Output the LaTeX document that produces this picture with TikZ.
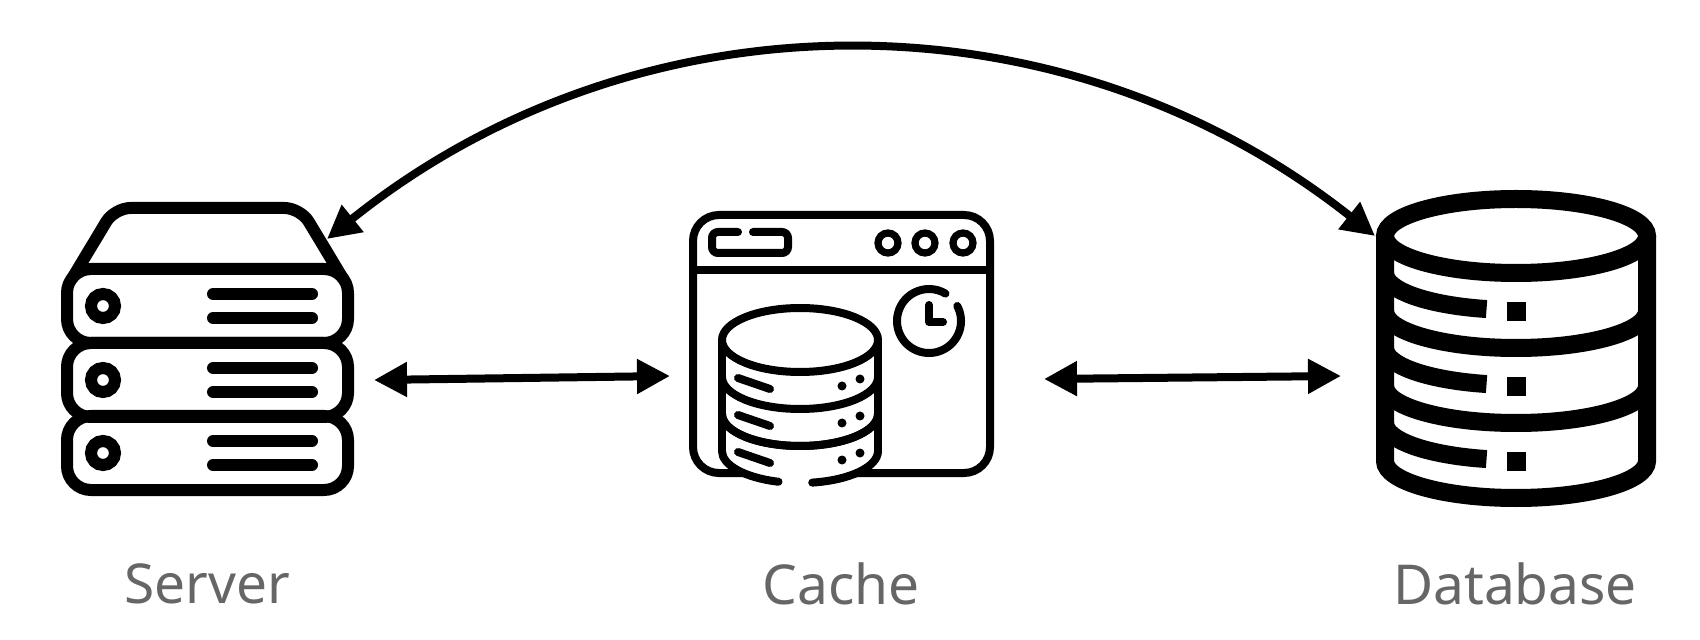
\documentclass[tikz,border=0pt]{standalone}
\usepackage{fontspec}
\setmainfont{Noto Sans}
\usetikzlibrary{arrows.meta}
\tikzset{
  link/.style={line width=4pt, {Triangle[length=16.5pt,width=16.5pt]}-{Triangle[length=16.5pt,width=16.5pt]}},
  caption/.style={text=black!60, font=\fontsize{27.5}{27.5}\selectfont, inner sep=0pt},
  srvline/.style={line width=6pt, line cap=round},
  cacheline/.style={line width=4pt, line cap=round},
  dbline/.style={line width=9pt},
}
\begin{document}
\begin{tikzpicture}[x=0.5pt, y=-0.5pt]
  \useasboundingbox (0,0) rectangle (1700,640);
  % server
  \def\sL{67} \def\sR{348}
  \draw[srvline, rounded corners=8pt, line join=round] (72.4,278) -- (114.5,208) -- (300.5,208) -- (342.6,278);
  \foreach \y in {269, 343, 416} {
    \draw[srvline, rounded corners=12pt] (\sL, \y) rectangle (\sR, \y+74);
    \draw[line width=6pt] (103, \y+37) circle (12);
    \draw[srvline] (213, \y+25) -- (312, \y+25);
    \draw[srvline] (213, \y+49) -- (312, \y+49);
  }
  % cache
  \draw[cacheline, rounded corners=13pt] (693,215) rectangle (990,473);
  \draw[cacheline] (693,270) -- (990,270);
  \draw[cacheline, rounded corners=3pt] (738,232) -- (712,232) -- (712,253) -- (788,253) -- (788,232) -- (753,232);
  \foreach \x in {888, 925, 963} {
    \draw[line width=3.6pt] (\x, 243) circle (10);
  }
  \draw[cacheline] (929,321) ++(-28:32) arc[start angle=-28, end angle=301, radius=32];
  \draw[cacheline, line join=round] (929,305) -- (929,322) -- (943,322);
  \fill[white] (722,340) -- (722,451) arc[start angle=180, end angle=0, x radius=78, y radius=32] -- (878,340) -- cycle;
  \draw[cacheline] (800,340) ellipse[x radius=78, y radius=32];
  \draw[cacheline] (722,340) -- (722,451);
  \draw[cacheline] (878,340) -- (878,451);
  \foreach \d in {0, 37, 74} {
    \ifnum\d<74
      \draw[cacheline] (722,377+\d) arc[start angle=180, end angle=0, x radius=78, y radius=32];
    \fi
    \draw[cacheline] (738,378+\d) -- (770,389+\d);
    \fill (842,386+\d) circle (4.5);
    \fill (860,379+\d) circle (4.5);
  }
  \draw[cacheline] (722,340) ++(0,74) arc[start angle=180, end angle=0, x radius=78, y radius=32];
  \draw[cacheline] (722,451) arc[start angle=180, end angle=106, x radius=78, y radius=32];
  \draw[cacheline] (878,451) arc[start angle=0, end angle=81, x radius=78, y radius=32];
  % database
  \draw[dbline] (1516,236) ellipse[x radius=131, y radius=37];
  \draw[dbline] (1385,236) -- (1385,461) arc[start angle=180, end angle=0, x radius=131, y radius=37] -- (1647,236);
  \foreach \d in {0, 75, 150} {
    \ifnum\d>0
      \draw[dbline] (1385,236+\d) arc[start angle=180, end angle=0, x radius=131, y radius=37];
    \fi
    \draw[dbline] (1385,273+\d) arc[start angle=180, end angle=103, x radius=131, y radius=37];
    \fill (1506.5,302+\d) rectangle (1525.5,321+\d);
  }
  % links
  \coordinate (srvTop) at (327,239);
  \coordinate (dbTop) at (1375,236);
  \coordinate (srvMid) at (374,380);
  \coordinate (cacheL) at (670,376);
  \coordinate (cacheR) at (1044,379);
  \coordinate (dbMid) at (1341,376);
  \draw[link] (srvTop) .. controls (640,-12) and (1062,-12) .. (dbTop);
  \draw[link] (srvMid) -- (cacheL);
  \draw[link] (cacheR) -- (dbMid);
  % labels
  \node[caption] (serverLabel) at (207,584) {Server};
  \node[caption] (cacheLabel) at (841,584) {Cache};
  \node[caption] (dbLabel) at (1515,584) {Database};
\end{tikzpicture}
\end{document}
